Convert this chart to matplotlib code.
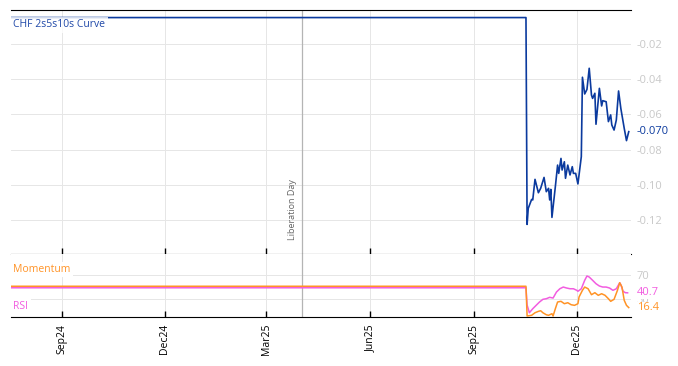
import matplotlib
matplotlib.use("Agg")
import matplotlib.pyplot as plt
import pandas as pd

plt.rcParams['font.family'] = ['Open Sans', 'DejaVu Sans']

# ---- data ----
series_name = "CHF 2s5s10s Curve"
start_date = "2024-07-18"
flat_curve_value = -0.005
curve_dates = ["2025-10-17", "2025-10-18", "2025-10-19", "2025-10-22", "2025-10-23", "2025-10-25",
               "2025-10-28", "2025-10-30", "2025-11-02", "2025-11-04", "2025-11-06", "2025-11-07",
               "2025-11-08", "2025-11-09", "2025-11-12", "2025-11-14", "2025-11-15", "2025-11-17",
               "2025-11-18", "2025-11-20", "2025-11-21", "2025-11-23", "2025-11-25", "2025-11-27",
               "2025-11-28", "2025-11-30", "2025-12-02", "2025-12-05", "2025-12-06", "2025-12-08",
               "2025-12-10", "2025-12-12", "2025-12-14", "2025-12-15", "2025-12-17", "2025-12-18",
               "2025-12-21", "2025-12-23", "2025-12-24", "2025-12-27", "2025-12-29", "2025-12-31",
               "2026-01-01", "2026-01-03", "2026-01-05", "2026-01-07", "2026-01-09", "2026-01-12",
               "2026-01-14", "2026-01-16"]
curve_values = [-0.0050, -0.1225, -0.1134, -0.1083, -0.1086, -0.0969,
                -0.1045, -0.1020, -0.0958, -0.1039, -0.1020, -0.1086,
                -0.1026, -0.1185, -0.1011, -0.0888, -0.0935, -0.0850,
                -0.0916, -0.0869, -0.0963, -0.0888, -0.0944, -0.0897,
                -0.0935, -0.0935, -0.0995, -0.0840, -0.0389, -0.0484,
                -0.0458, -0.0338, -0.0490, -0.0509, -0.0480, -0.0656,
                -0.0452, -0.0552, -0.0522, -0.0528, -0.0641, -0.0603,
                -0.0660, -0.0689, -0.0632, -0.0467, -0.0566, -0.0679,
                -0.0749, -0.0698]

flat_rsi_value = 49.0
rsi_dates = ["2025-10-17", "2025-10-18", "2025-10-20", "2025-10-23", "2025-10-26", "2025-10-29",
             "2025-11-01", "2025-11-04", "2025-11-07", "2025-11-10", "2025-11-13", "2025-11-16",
             "2025-11-19", "2025-11-22", "2025-11-25", "2025-11-28", "2025-12-01", "2025-12-02",
             "2025-12-05", "2025-12-08", "2025-12-10", "2025-12-12", "2025-12-15", "2025-12-18",
             "2025-12-21", "2025-12-24", "2025-12-27", "2025-12-30", "2026-01-02", "2026-01-05",
             "2026-01-08", "2026-01-09", "2026-01-11", "2026-01-13", "2026-01-15"]
rsi_values = [49.0, 20.6, 7.9, 14.5, 20.1, 25.6,
              30.0, 31.0, 33.3, 32.1, 42.0, 47.4,
              50.2, 48.6, 47.4, 47.4, 44.8, 43.2,
              47.4, 61.3, 68.4, 66.7, 61.3, 55.7,
              51.9, 50.2, 50.2, 48.6, 44.8, 47.4,
              57.3, 54.0, 43.2, 40.9, 40.7]

flat_mom_value = 51.5
mom_dates = ["2025-10-17", "2025-10-18", "2025-10-22", "2025-10-25", "2025-10-28", "2025-10-30",
             "2025-11-01", "2025-11-04", "2025-11-06", "2025-11-09", "2025-11-10", "2025-11-12",
             "2025-11-14", "2025-11-17", "2025-11-20", "2025-11-23", "2025-11-26", "2025-11-29",
             "2025-12-02", "2025-12-03", "2025-12-06", "2025-12-08", "2025-12-11", "2025-12-14",
             "2025-12-17", "2025-12-20", "2025-12-23", "2025-12-26", "2025-12-29", "2025-12-31",
             "2026-01-03", "2026-01-06", "2026-01-08", "2026-01-10", "2026-01-12", "2026-01-14",
             "2026-01-16"]
mom_values = [51.5, 2.5, 3.7, 7.9, 10.2, 11.2,
              7.9, 4.6, 3.7, 6.3, 2.5, 14.5,
              25.6, 26.7, 22.8, 24.4, 21.1, 20.1,
              22.8, 33.8, 44.8, 50.2, 47.4, 37.6,
              40.9, 36.6, 39.2, 36.6, 31.0, 26.7,
              30.0, 44.8, 57.3, 50.2, 28.4, 20.1,
              16.4]

event_date = "2025-04-02"
event_label = "Liberation Day"
x_ticks = ["2024-09-01", "2024-12-01", "2025-03-01", "2025-06-01", "2025-09-01", "2025-12-01"]
x_tick_labels = ["Sep24", "Dec24", "Mar25", "Jun25", "Sep25", "Dec25"]
main_yticks = [-0.02, -0.04, -0.06, -0.08, -0.10, -0.12]
lower_yticks = [70, 30]
x_start, x_end = "2024-07-18", "2026-01-18"

# ---- styling ----
BLUE = "#0b3a9e"
ORANGE = "#ff9326"
PINK = "#f25ce0"
GRID = "#e6e6e6"
TICKGREY = "#c8c8c8"

fig = plt.figure(figsize=(6.78, 3.66), dpi=100)
ax = fig.add_axes([11/678, 1-254/366, 620/678, 244/366])
ax2 = fig.add_axes([11/678, 1-317/366, 620/678, 63/366])

cd = pd.to_datetime([start_date] + curve_dates)
cv = [flat_curve_value] + curve_values
ax.plot(cd, cv, color=BLUE, lw=1.2, zorder=3)

rd = pd.to_datetime([start_date] + rsi_dates)
rv = [flat_rsi_value] + rsi_values
md = pd.to_datetime([start_date] + mom_dates)
mv = [flat_mom_value] + mom_values
ax2.plot(rd, rv, color=PINK, lw=1.1, zorder=3)
ax2.plot(md, mv, color=ORANGE, lw=1.1, zorder=3)

xt = pd.to_datetime(x_ticks)
for a in (ax, ax2):
    a.set_xlim(pd.Timestamp(x_start), pd.Timestamp(x_end))
    a.set_xticks(xt)
ax.set_xticklabels([])
ax2.set_xticklabels(x_tick_labels, rotation=90, fontsize=7.5)
ax.set_ylim(-0.1393, -0.0007)
ax2.set_ylim(0.9, 104.6)

for a in (ax, ax2):
    a.grid(True, axis='both', color=GRID, lw=0.7)
    a.spines['left'].set_visible(False)
    a.spines['right'].set_visible(False)
    a.yaxis.tick_right()
    a.tick_params(axis='y', length=0, colors=TICKGREY, labelsize=8, pad=4)
    a.tick_params(axis='x', which='major', direction='in', length=4, width=1,
                  color='black', bottom=True, top=False, pad=5, labelcolor='black')
ax.spines['top'].set_color('black')
ax.spines['bottom'].set_color('black')
ax2.spines['top'].set_visible(False)
ax2.spines['bottom'].set_color('black')
ax.set_yticks(main_yticks)
ax.set_yticklabels([f"{v:.2f}" for v in main_yticks])
ax2.set_yticks(lower_yticks)
ax2.set_yticklabels([str(v) for v in lower_yticks])

# event line
ev = pd.Timestamp(event_date)
ax.axvline(ev, color="#b4b4b4", lw=0.9, zorder=2)
ax2.axvline(ev, color="#b4b4b4", lw=0.9, zorder=2)
ax.text(ev - pd.Timedelta(days=9), -0.1375 + 0.0060, event_label, rotation=90,
        fontsize=6.5, color="#666666", ha='center', va='bottom')

# labels
ax.text(0.004, 0.94, series_name, transform=ax.transAxes, fontsize=7.5, color="#1f48a8",
        ha='left', va='center', zorder=5,
        bbox=dict(boxstyle='square,pad=0.25', fc='white', ec='none', alpha=0.8))
ax2.text(0.004, 0.76, "Momentum", transform=ax2.transAxes, fontsize=7.5, color=ORANGE,
         ha='left', va='center', zorder=5,
         bbox=dict(boxstyle='square,pad=0.2', fc='white', ec='none'))
ax2.text(0.004, 0.17, "RSI", transform=ax2.transAxes, fontsize=7.5, color=PINK,
         ha='left', va='center', zorder=5,
         bbox=dict(boxstyle='square,pad=0.2', fc='white', ec='none'))

# last value labels
ax.annotate(f"{curve_values[-1]:.3f}", xy=(1, curve_values[-1]), xycoords=('axes fraction', 'data'),
            xytext=(4, 0), textcoords='offset points', color=BLUE, fontsize=8, va='center', ha='left')
ax2.annotate(f"{rsi_values[-1]:.1f}", xy=(1, rsi_values[-1]), xycoords=('axes fraction', 'data'),
             xytext=(4, 0), textcoords='offset points', color=PINK, fontsize=8, va='center', ha='left',
             bbox=dict(boxstyle='square,pad=0.05', fc='white', ec='none'))
ax2.annotate(f"{mom_values[-1]:.1f}", xy=(1, mom_values[-1]), xycoords=('axes fraction', 'data'),
             xytext=(4, 0), textcoords='offset points', color=ORANGE, fontsize=8, va='center', ha='left',
             bbox=dict(boxstyle='square,pad=0.05', fc='white', ec='none'))

fig.savefig("out.png", dpi=100)
